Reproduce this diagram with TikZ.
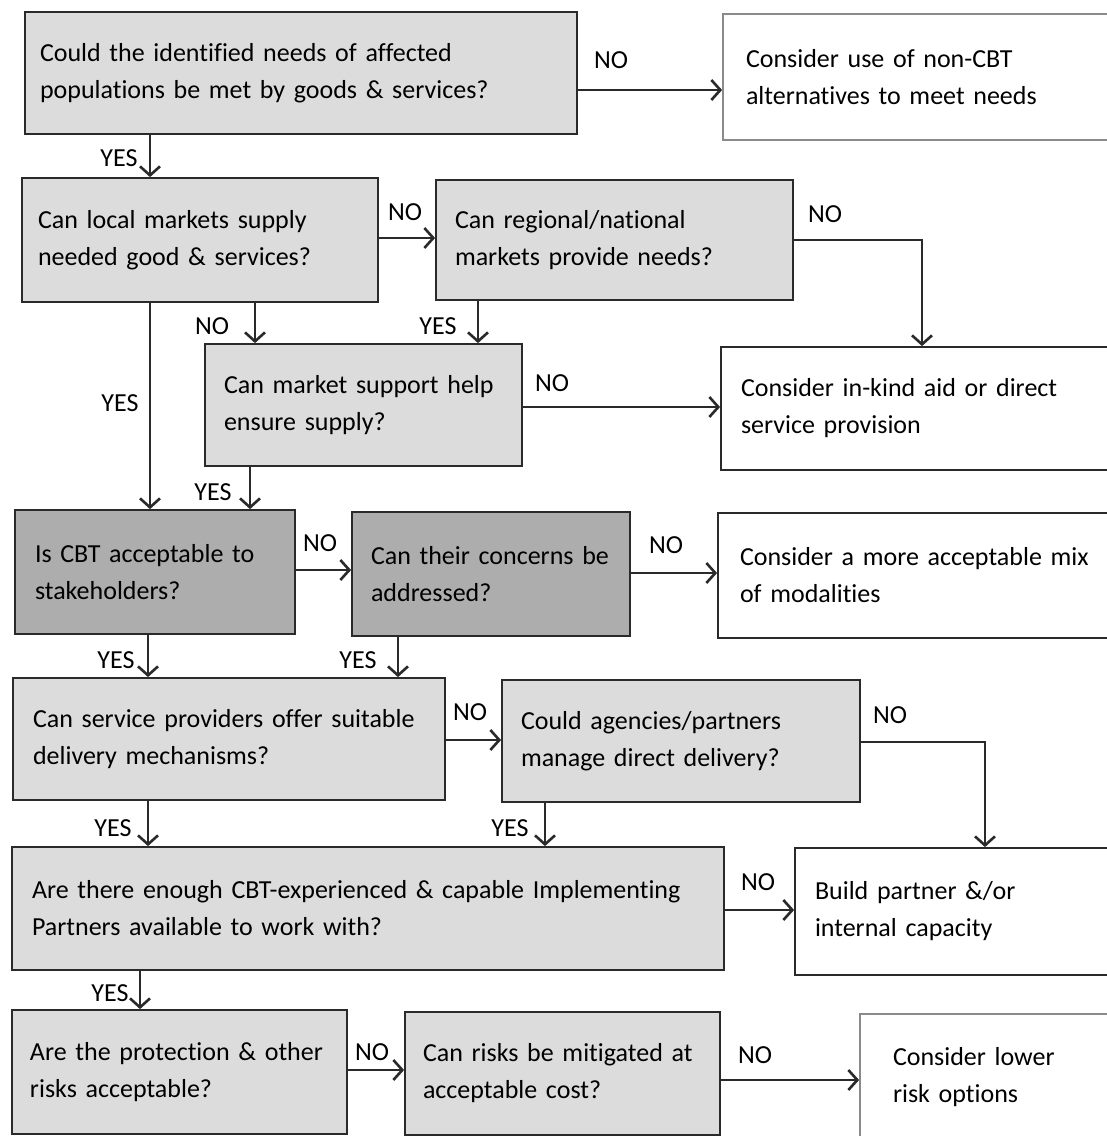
\documentclass[tikz,border=0pt]{standalone}
\usepackage{fontspec}
\setmainfont{Carlito}[Ligatures=NoCommon]
\usetikzlibrary{arrows.meta}
\definecolor{qfill}{HTML}{DCDCDC}
\definecolor{dfill}{HTML}{ADADAD}
\definecolor{bline}{HTML}{2A2A2A}
\definecolor{gline}{HTML}{8A8A8A}
\newcommand{\oneline}[1]{\mbox{#1}}
\begin{document}
\begin{tikzpicture}[x=1pt,y=-1pt,
  font=\fontsize{26}{37}\selectfont,
  qbox/.style={draw=bline, line width=1.8pt, fill=qfill, rectangle, inner xsep=0pt, inner ysep=0pt, align=left},
  dbox/.style={qbox, fill=dfill},
  rbox/.style={qbox, fill=white},
  gbox/.style={qbox, fill=white, draw=gline},
  arr/.style={line width=2.8pt, draw=bline, -{Straight Barb[length=9pt,width=20pt,line width=2.6pt]}},
  lab/.style={inner sep=0pt, text=black}]
\clip (0,0) rectangle (1107,1136);
\fill[white] (0,0) rectangle (1107,1136);
% boxes
\node[qbox, minimum width=552, minimum height=122, text width=522] (q1) at (301,73) {\oneline{Could the identified needs of affected}\\\oneline{populations be met by goods \& services?}};
\node[gbox, minimum width=392, minimum height=126, text width=346] (r1) at (919,77) {\oneline{Consider use of non-CBT}\\\oneline{alternatives to meet needs}};
\node[qbox, minimum width=356, minimum height=124, text width=324] (q2) at (200,240) {\oneline{Can local markets supply}\\\oneline{needed good \& services?}};
\node[qbox, minimum width=357, minimum height=120, text width=319] (q3) at (614.5,240) {\oneline{Can regional/national}\\\oneline{markets provide needs?}};
\node[qbox, minimum width=317, minimum height=122, text width=279] (q4) at (363.5,405) {\oneline{Can market support help}\\\oneline{ensure supply?}};
\node[rbox, minimum width=394, minimum height=123, text width=354] (r2) at (918,408.5) {\oneline{Consider in-kind aid or direct}\\\oneline{service provision}};
\node[dbox, minimum width=280, minimum height=124, text width=240] (q5) at (155,572) {\oneline{Is CBT acceptable to}\\\oneline{stakeholders?}};
\node[dbox, minimum width=278, minimum height=124, text width=240] (q6) at (491,574) {\oneline{Can their concerns be}\\\oneline{addressed?}};
\node[rbox, minimum width=397, minimum height=125, text width=353] (r3) at (916.5,575.5) {\oneline{Consider a more acceptable mix}\\\oneline{of modalities}};
\node[qbox, minimum width=432, minimum height=122, text width=392] (q7) at (229,739) {\oneline{Can service providers offer suitable}\\\oneline{delivery mechanisms?}};
\node[qbox, minimum width=358, minimum height=122, text width=320] (q8) at (681,741) {\oneline{Could agencies/partners}\\\oneline{manage direct delivery?}};
\node[qbox, minimum width=712, minimum height=123, text width=672] (q9) at (368,908.5) {\oneline{Are there enough CBT-experienced \& capable Implementing}\\\oneline{Partners available to work with?}};
\node[rbox, minimum width=320, minimum height=127, text width=280] (r4) at (955,911.5) {\oneline{Build partner \&/or}\\\oneline{internal capacity}};
\node[qbox, minimum width=335, minimum height=124, text width=299] (q10) at (179.5,1072) {\oneline{Are the protection \& other}\\\oneline{risks acceptable?}};
\node[qbox, minimum width=315, minimum height=123, text width=279] (q11) at (562.5,1073.5) {\oneline{Can risks be mitigated at}\\\oneline{acceptable cost?}};
\node[gbox, minimum width=255, minimum height=126, text width=189] (r5) at (987.5,1077) {\oneline{Consider lower}\\\oneline{risk options}};
% connectors
\draw[arr] ([yshift=-17pt]q1.east) -- ([yshift=-17pt]q1.east -| r1.west);
\draw[arr] ([xshift=-151pt]q1.south) -- ([xshift=-151pt]q1.south |- q2.north);
\draw[arr] ([yshift=2pt]q2.east) -- ([yshift=2pt]q2.east -| q3.west);
\draw[arr] (q3.east) -| ([xshift=4pt]r2.north);
\draw[arr] ([xshift=55pt]q2.south) -- ([xshift=55pt]q2.south |- q4.north);
\draw[arr] ([xshift=-136.5pt]q3.south) -- ([xshift=-136.5pt]q3.south |- q4.north);
\draw[arr] ([xshift=-50pt]q2.south) -- ([xshift=-50pt]q2.south |- q5.north);
\draw[arr] ([yshift=-2pt]q4.east) -- ([yshift=-2pt]q4.east -| r2.west);
\draw[arr] ([xshift=-113.5pt]q4.south) -- ([xshift=-113.5pt]q4.south |- q5.north);
\draw[arr] ([yshift=2pt]q5.east) -- ([yshift=2pt]q5.east -| q6.west);
\draw[arr] ([yshift=1pt]q6.east) -- ([yshift=1pt]q6.east -| r3.west);
\draw[arr] ([xshift=-7pt]q5.south) -- ([xshift=-7pt]q5.south |- q7.north);
\draw[arr] ([xshift=-93pt]q6.south) -- ([xshift=-93pt]q6.south |- q7.north);
\draw[arr] ([yshift=-1pt]q7.east) -- ([yshift=-1pt]q7.east -| q8.west);
\draw[arr] ([yshift=-1pt]q8.east) -| ([xshift=30pt]r4.north);
\draw[arr] ([xshift=-81pt]q7.south) -- ([xshift=-81pt]q7.south |- q9.north);
\draw[arr] ([xshift=-136pt]q8.south) -- ([xshift=-136pt]q8.south |- q9.north);
\draw[arr] ([yshift=-1.5pt]q9.east) -- ([yshift=-1.5pt]q9.east -| r4.west);
\draw[arr] ([xshift=-228pt]q9.south) -- ([xshift=-228pt]q9.south |- q10.north);
\draw[arr] ([yshift=2pt]q10.east) -- ([yshift=2pt]q10.east -| q11.west);
\draw[arr] ([yshift=-6.5pt]q11.east) -- ([yshift=-6.5pt]q11.east -| r5.west);
% labels
\node[lab] (l1) at (611,60) {NO};
\node[lab] (l2) at (119,158) {YES};
\node[lab] (l3) at (405,212) {NO};
\node[lab] (l4) at (825,214) {NO};
\node[lab] (l5) at (212,326) {NO};
\node[lab] (l6) at (438,326) {YES};
\node[lab] (l7) at (120,403) {YES};
\node[lab] (l8) at (552,383) {NO};
\node[lab] (l9) at (213,492) {YES};
\node[lab] (l10) at (320,543) {NO};
\node[lab] (l11) at (666,545) {NO};
\node[lab] (l12) at (116,660) {YES};
\node[lab] (l13) at (358,660) {YES};
\node[lab] (l14) at (470,712) {NO};
\node[lab] (l15) at (890,715) {NO};
\node[lab] (l16) at (113,828) {YES};
\node[lab] (l17) at (510,828) {YES};
\node[lab] (l18) at (758,882) {NO};
\node[lab] (l19) at (110,993) {YES};
\node[lab] (l20) at (372,1052) {NO};
\node[lab] (l21) at (755,1055) {NO};
\end{tikzpicture}
\end{document}
